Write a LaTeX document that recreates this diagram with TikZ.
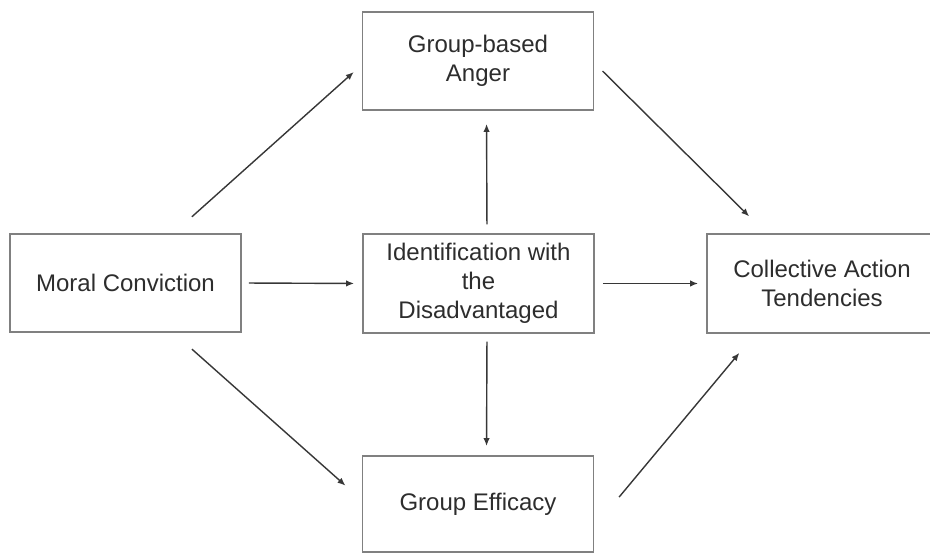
\documentclass[tikz,border=0pt]{standalone}
\usepackage{fontspec}
\setmainfont{Liberation Sans}
\usepackage{tikz}
\usetikzlibrary{arrows.meta}

\definecolor{boxgray}{RGB}{128,128,128}
\definecolor{arrgray}{RGB}{55,55,55}
\definecolor{txtgray}{RGB}{45,45,45}

\begin{document}
\begin{tikzpicture}[x=0.02cm, y=-0.02cm,
	box/.style={rectangle, draw=boxgray, line width=1.1pt, minimum width=4.62cm, minimum height=1.97cm, inner sep=0pt, align=center, text=txtgray, font=\fontsize{13.66pt}{16.5pt}\selectfont},
	arr/.style={draw=arrgray, line width=0.8pt, -{Latex[length=1.6mm, width=1.3mm]}}]
				\useasboundingbox (0,0) rectangle (930,553);
				\clip (0,0) rectangle (930,553);
				
				\node[box] (moral) at (125.5,283) {Moral Conviction};
				\node[box, minimum height=1.96cm] (anger) at (478,61) {Group-based\\Anger};
				\node[box] (ident) at (478.5,283.5) {Identification with\\the\\Disadvantaged};
				\node[box, minimum width=4.6cm] (coll) at (822,283.5) {Collective Action\\Tendencies};
				\node[box, minimum height=1.92cm] (eff) at (478,504) {Group Efficacy};
				
				\draw[arr, shorten <=0.14cm, shorten >=0.16cm] (moral.east) -- (ident.west);
				\draw[arr, shorten <=0.16cm, shorten >=0.16cm] (ident.east) -- (coll.west);
				\draw[arr, shorten <=0.18cm, shorten >=0.26cm] ([xshift=0.17cm]ident.north) -- ([xshift=0.17cm]anger.south);
				\draw[arr, shorten <=0.16cm, shorten >=0.18cm] ([xshift=0.17cm]ident.south) -- ([xshift=0.17cm]eff.north);
				\draw[arr, shorten <=0.48cm, shorten >=0.21cm] (moral.46) -- (anger.182);
				\draw[arr, shorten <=0.48cm, shorten >=0.43cm] (moral.-46) -- (eff.178.6);
				\draw[arr, shorten <=0.23cm, shorten >=0.48cm] (anger.-1) -- (coll.138.5);
				\draw[arr, shorten <=0.77cm, shorten >=0.50cm] (eff.-11) -- (coll.217.3);
				\end{tikzpicture}
\end{document}
